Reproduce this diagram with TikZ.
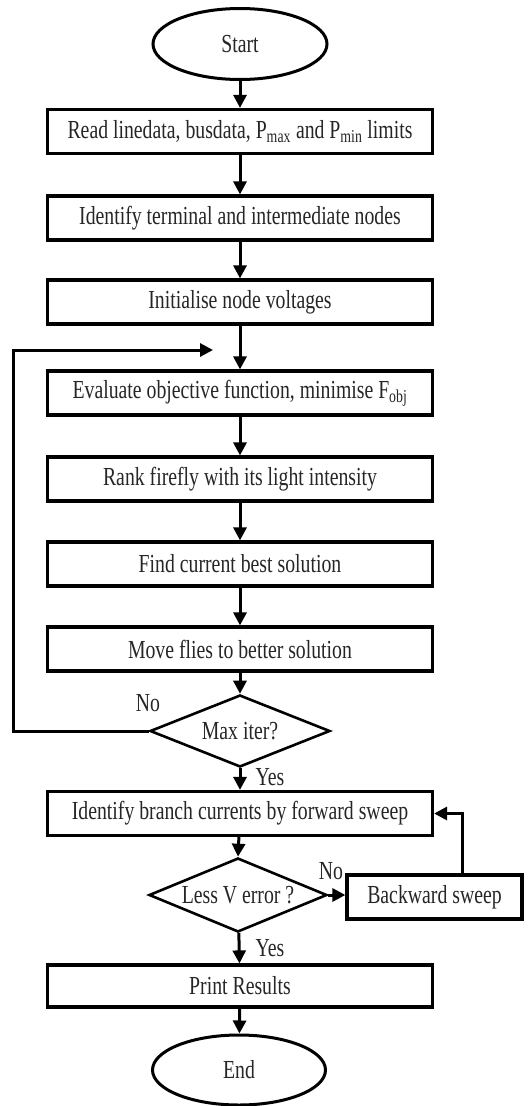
\documentclass[tikz,border=0pt]{standalone}
\usepackage{fontspec}
\setmainfont{Liberation Serif}[FakeStretch=0.76]
\usetikzlibrary{shapes.geometric,arrows.meta}
\begin{document}
\begin{tikzpicture}[x=1pt,y=-1pt,
  every node/.style={font=\fontsize{26}{28}\selectfont, text=black!85},
  box/.style={draw=black, line width=3.2pt, rectangle, minimum width=385pt, minimum height=44pt, inner sep=0pt},
  term/.style={draw=black, line width=3pt, ellipse, minimum width=174pt, minimum height=71pt, inner sep=0pt},
  dec/.style={draw=black, line width=2.6pt, diamond, minimum width=180pt, minimum height=72pt, inner sep=0pt, aspect=2.5},
  lab/.style={inner sep=0pt},
  arr/.style={draw=black, line width=3pt, -{Triangle[length=13pt,width=13pt]}},
]
\useasboundingbox (0,0) rectangle (529,1106);
\fill[white] (0,0) rectangle (529,1106);

\node[term] (start) at (240,44) {Start};
\node[box] (b1) at (240,131.5) {Read linedata, busdata, P\textsubscript{max} and P\textsubscript{min} limits};
\node[box] (b2) at (240,218) {Identify terminal and intermediate nodes};
\node[box] (b3) at (240,302) {Initialise node voltages};
\node[box] (b4) at (240,393) {Evaluate objective function, minimise F\textsubscript{obj}};
\node[box] (b5) at (240,479) {Rank firefly with its light intensity};
\node[box] (b6) at (240,564) {Find current best solution};
\node[box] (b7) at (240,649) {Move flies to better solution};
\node[dec] (d1) at (240,731) {Max iter?};
\node[box] (b8) at (240,813.5) {Identify branch currents by forward sweep};
\node[dec, minimum width=178pt, minimum height=74pt] (d2) at (238,895) {Less V error ?};
\node[box, minimum width=175pt] (bs) at (434.5,897) {Backward sweep};
\node[box, minimum height=42pt] (b9) at (240,986) {Print Results};
\node[term, minimum width=173pt, minimum height=70pt] (end) at (239,1070) {End};

\node[lab] (no1) at (148,703) {No};
\node[lab] (yes1) at (270,777) {Yes};
\node[lab] (no2) at (331,871) {No};
\node[lab] (yes2) at (270,948) {Yes};

\coordinate (lp1) at (13,731);
\coordinate (lp2) at (13,350);
\coordinate (lp3) at (213,350);
\coordinate (rp1) at (462,813.5);

\draw[arr] (start) -- (b1);
\draw[arr] (b1) -- (b2);
\draw[arr] (b2) -- (b3);
\draw[arr] (b3) -- (b4);
\draw[arr] (b4) -- (b5);
\draw[arr] (b5) -- (b6);
\draw[arr] (b6) -- (b7);
\draw[arr] (b7) -- (d1);
\draw[arr] (d1) -- (b8);
\draw[arr] (b8) -- (d2.north);
\draw[arr] (d2.east) -- (bs.west |- d2.east);
\draw[arr] (d2) -- (b9);
\draw[arr] (b9) -- (end);
\draw[arr] (d1.west) -- (lp1) -- (lp2) -- (lp3);
\draw[arr] (bs.north -| rp1) -- (rp1) -- (b8.east);
\end{tikzpicture}
\end{document}
